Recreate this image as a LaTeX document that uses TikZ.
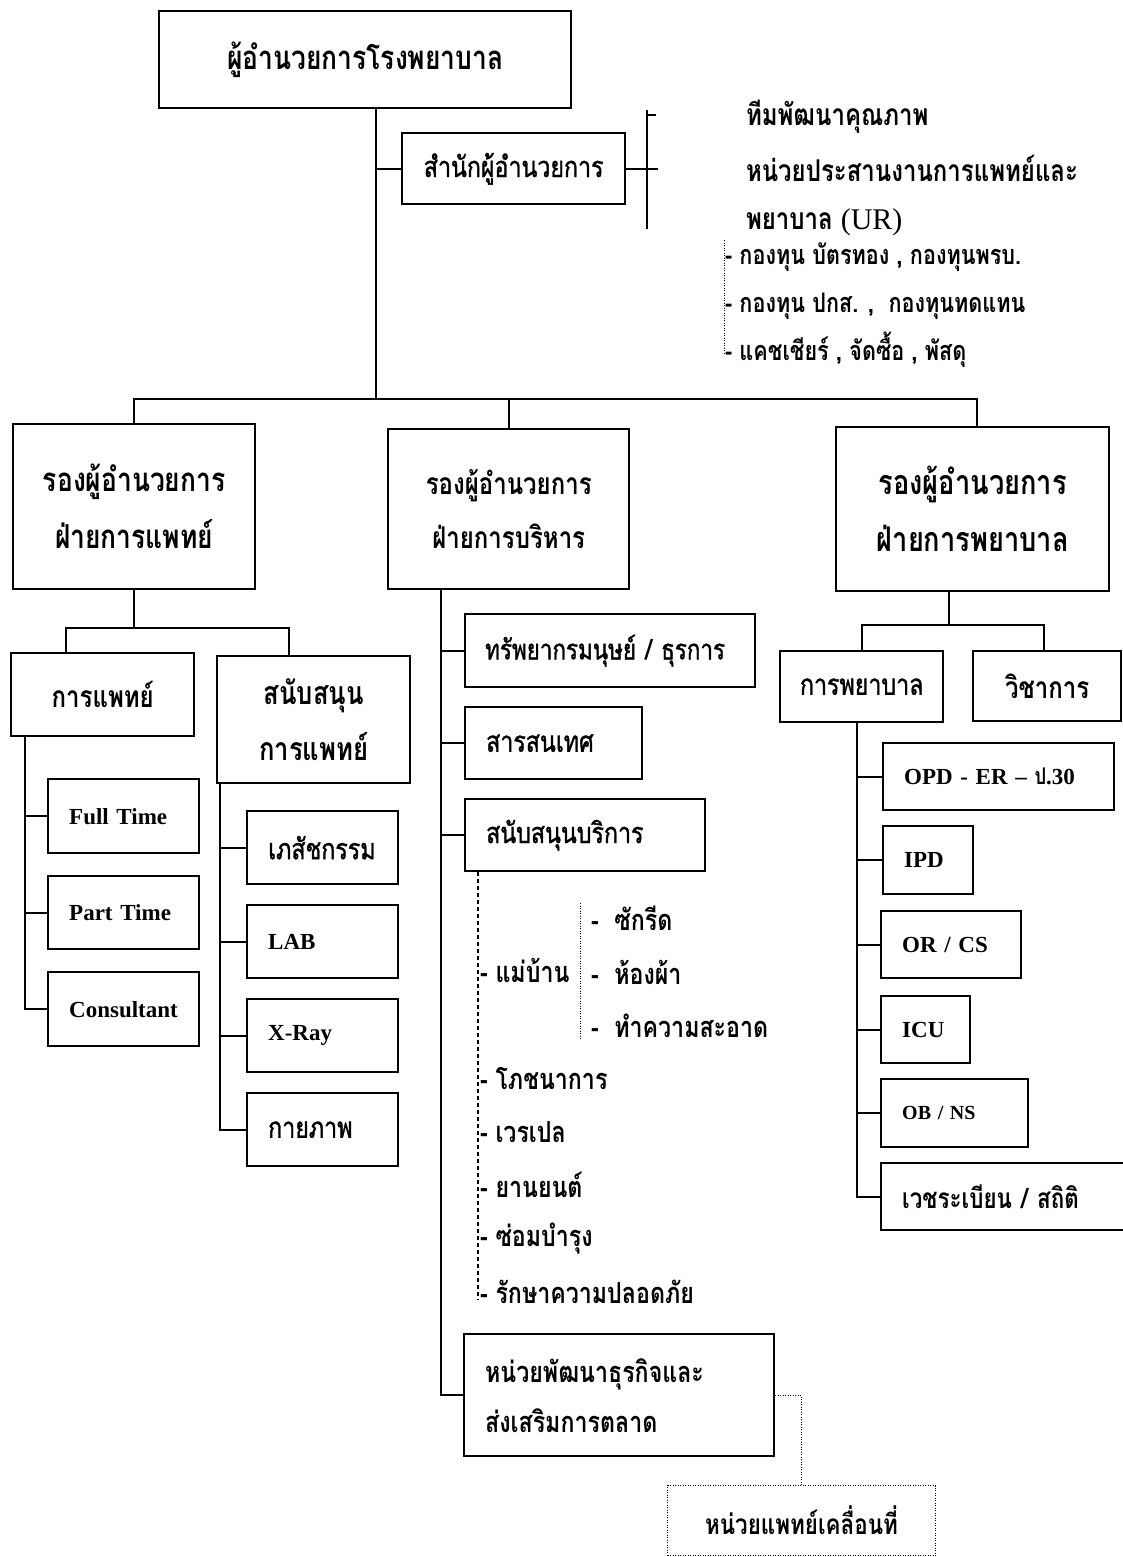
\documentclass[tikz,border=0pt]{standalone}
\usepackage{fontspec}
\setmainfont{Liberation Serif}
\newfontfamily\thaifont[Script=Thai,FakeStretch=0.8]{Loma}
\newfontfamily\thaimid[Script=Thai,FakeStretch=0.8,FakeBold=1.2]{Loma}

\begin{document}
\begin{tikzpicture}[x=1pt, y=-1pt, line width=2pt,
	box/.style={draw, line width=2.4pt, inner sep=0pt, anchor=north west, align=center},
	lbox/.style={box, align=left, inner xsep=21pt},
	thaiL/.style={font=\thaifont\bfseries\fontsize{33}{57}\selectfont},
	thaiM/.style={font=\thaifont\bfseries\fontsize{30}{54}\selectfont},
	thaiN/.style={font=\thaimid\fontsize{29}{54}\selectfont},
	latin/.style={font=\bfseries\fontsize{23}{28}\selectfont},
	note/.style={anchor=west, inner sep=0pt, font=\thaifont\bfseries\fontsize{30}{34}\selectfont},
	listitem/.style={anchor=west, inner sep=0pt, font=\thaifont\bfseries\fontsize{29}{32}\selectfont},
	fundnote/.style={listitem, font=\thaifont\bfseries\fontsize{27}{30}\selectfont},
	dashline/.style={line width=1.2pt, dash pattern=on 4pt off 3pt},
	dotline/.style={line width=1pt, dash pattern=on 1pt off 1.5pt}]

	\useasboundingbox (0,0) rectangle (1123,1557);

	% top
	\node[box, thaiL, minimum width=412, minimum height=97] (director) at (158,10) {ผู้อำนวยการโรงพยาบาล};
	\node[box, thaiN, minimum width=223, minimum height=71] (office) at (401,132) {สำนักผู้อำนวยการ};
	\coordinate (trunk) at (376,399);
	\draw (director.south -| trunk) -- (trunk);
	\draw (office.west) -- (office.west -| trunk);

	\coordinate (brtop) at (647,110);
	\coordinate (brbot) at (647,229);
	\draw (brtop) -- (brbot);
	\draw ([yshift=-5pt]brtop) -- ++(9,0);
	\draw (office.east) -- ++(32,0);

	\node[note] (team) at (745,117) {ทีมพัฒนาคุณภาพ};
	\node[note] (coord) at (745,168) {หน่วยประสานงานการแพทย์และ};
	\node[note] (ur) at (745,222) {พยาบาล {\rmfamily\mdseries (UR)}};

	\coordinate (fundtop) at (724,240);
	\coordinate (fundbot) at (724,353);
	\draw[dotline] (fundtop) -- (fundbot);
	\node[fundnote] (fund1) at (724,257) {- กองทุน บัตรทอง , กองทุนพรบ.};
	\node[fundnote] (fund2) at (724,306) {- กองทุน ปกส. ,~~กองทุนทดแทน};
	\node[fundnote] (fund3) at (724,350) {- แคชเชียร์ , จัดซื้อ , พัสดุ};

	% vice directors
	\node[box, thaiL, minimum width=242, minimum height=165] (vmed) at (12,423) {รองผู้อำนวยการ\\ฝ่ายการแพทย์};
	\node[box, thaiM, minimum width=241, minimum height=160] (vadm) at (387,428) {รองผู้อำนวยการ\\ฝ่ายการบริหาร};
	\node[box, thaiL, font=\thaifont\bfseries\fontsize{34}{57}\selectfont, minimum width=273, minimum height=164] (vnur) at (835,426) {รองผู้อำนวยการ\\ฝ่ายการพยาบาล};
	\coordinate (busL) at (133,399);
	\coordinate (busR) at (977,399);
	\draw (vmed.north) -- (vmed.north |- busL) -- (busR) -- (busR |- vnur.north);
	\draw (vadm.north) -- (vadm.north |- busL);

	% medical
	\node[box, thaiM, minimum width=183, minimum height=83] (med) at (10,652) {การแพทย์};
	\node[box, thaiM, font=\thaifont\bfseries\fontsize{32}{56}\selectfont, minimum width=193, minimum height=127] (supp) at (216,655) {สนับสนุน\\การแพทย์};
	\coordinate (medbusL) at (66,628);
	\coordinate (medbusR) at (289,628);
	\draw (vmed.south) -- (vmed.south |- medbusL);
	\draw (med.north -| medbusL) -- (medbusL) -- (medbusR) -- (supp.north -| medbusR);

	\node[lbox, latin, text width=109, minimum height=74] (full) at (47,778) {Full Time};
	\node[lbox, latin, text width=109, minimum height=73] (part) at (47,875) {Part Time};
	\node[lbox, latin, text width=109, minimum height=74] (cons) at (47,971) {Consultant};
	\coordinate (medline) at (25,0);
	\draw (med.south -| medline) |- (cons.west);
	\draw (full.west) -- (full.west -| medline);
	\draw (part.west) -- (part.west -| medline);

	\node[lbox, thaiN, text width=109, minimum height=73] (pharm) at (246,810) {เภสัชกรรม};
	\node[lbox, latin, text width=109, minimum height=73] (lab) at (246,904) {LAB};
	\node[lbox, latin, text width=109, minimum height=73] (xray) at (246,998) {X-Ray};
	\node[lbox, thaiN, text width=109, minimum height=73] (physio) at (246,1092) {กายภาพ};
	\coordinate (suppline) at (220,0);
	\draw (supp.south -| suppline) |- (physio.west);
	\draw (pharm.west) -- (pharm.west -| suppline);
	\draw (lab.west) -- (lab.west -| suppline);
	\draw (xray.west) -- (xray.west -| suppline);

	% administration
	\node[lbox, thaiN, font=\thaimid\fontsize{28}{34}\selectfont, text width=250, inner xsep=20pt, minimum height=73] (hr) at (464,613) {ทรัพยากรมนุษย์~/~ธุรการ};
	\node[lbox, thaiN, text width=135, minimum height=72] (infosys) at (464,706) {สารสนเทศ};
	\node[lbox, thaiN, text width=198, minimum height=72] (svc) at (464,798) {สนับสนุนบริการ};
	\node[lbox, thaiM, font=\thaifont\bfseries\fontsize{29}{50}\selectfont, text width=268, minimum height=122] (biz) at (463,1333) {หน่วยพัฒนาธุรกิจและ\\ส่งเสริมการตลาด};
	\coordinate (admline) at (441,0);
	\draw (vadm.south -| admline) |- (biz.west);
	\draw (hr.west) -- (hr.west -| admline);
	\draw (infosys.west) -- (infosys.west -| admline);
	\draw (svc.west) -- (svc.west -| admline);

	\coordinate (svcline) at (478,1300);
	\draw[dashline] (svc.south -| svcline) -- (svcline);
	\node[listitem] (maid) at (479,970) {- แม่บ้าน};
	\node[listitem] (food) at (479,1078) {- โภชนาการ};
	\node[listitem] (porter) at (479,1132) {- เวรเปล};
	\node[listitem] (cars) at (479,1185) {- ยานยนต์};
	\node[listitem] (repair) at (479,1238) {- ซ่อมบำรุง};
	\node[listitem] (guard) at (479,1292) {- รักษาความปลอดภัย};

	\coordinate (maidtop) at (580,903);
	\coordinate (maidbot) at (580,1040);
	\draw[dotline] (maidtop) -- (maidbot);
	\node[listitem] (laundry) at (590,918) {-~~ซักรีด};
	\node[listitem] (linen) at (590,972) {-~~ห้องผ้า};
	\node[listitem] (clean) at (590,1026) {-~~ทำความสะอาด};

	\node[box, dotline, thaiM, font=\thaifont\bfseries\fontsize{28}{32}\selectfont, minimum width=268, minimum height=70] (mobile) at (667,1485) {หน่วยแพทย์เคลื่อนที่};
	\draw[dotline] (biz.east) -| (mobile.north);

	% nursing
	\node[box, thaiN, minimum width=163, minimum height=71] (nurse) at (779,650) {การพยาบาล};
	\node[box, thaiM, minimum width=148, minimum height=70] (acad) at (972,650) {วิชาการ};
	\coordinate (nstem) at (949,625);
	\coordinate (nbusL) at (862,625);
	\coordinate (nbusR) at (1044,625);
	\draw (vnur.south -| nstem) -- (nstem);
	\draw (nurse.north -| nbusL) -- (nbusL) -- (nbusR) -- (acad.north -| nbusR);

	\node[lbox, latin, text width=189, minimum height=67] (opd) at (882,742) {OPD - ER – {\thaifont ป}.30};
	\node[lbox, latin, text width=48, minimum height=68] (ipd) at (882,825) {IPD};
	\node[lbox, latin, text width=98, minimum height=67] (orcs) at (880,910) {OR / CS};
	\node[lbox, latin, text width=47, minimum height=67] (icu) at (880,995) {ICU};
	\node[lbox, latin, font=\bfseries\fontsize{20}{24}\selectfont, text width=105, minimum height=68] (obns) at (880,1078) {OB / NS};
	\node[lbox, thaiM, font=\thaifont\bfseries\fontsize{28}{32}\selectfont, text width=218, minimum height=67] (mrec) at (880,1162) {เวชระเบียน / สถิติ};
	\coordinate (nurline) at (857,0);
	\draw (nurse.south -| nurline) |- (mrec.west);
	\draw (opd.west) -- (opd.west -| nurline);
	\draw (ipd.west) -- (ipd.west -| nurline);
	\draw (orcs.west) -- (orcs.west -| nurline);
	\draw (icu.west) -- (icu.west -| nurline);
	\draw (obns.west) -- (obns.west -| nurline);

\end{tikzpicture}
\end{document}
